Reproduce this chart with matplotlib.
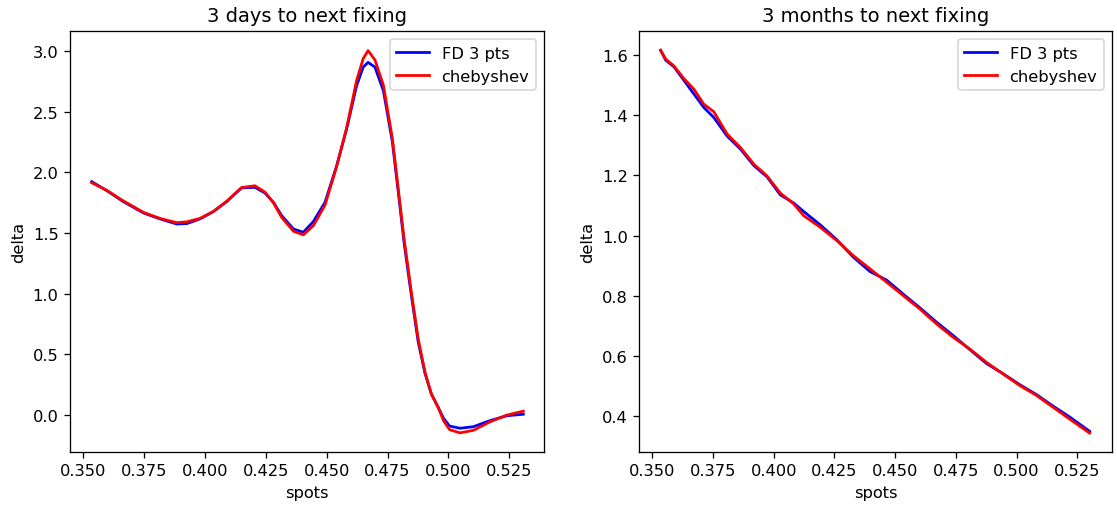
import matplotlib
matplotlib.use("Agg")
import matplotlib.pyplot as plt

# 3 days to next fixing
spots_short = [0.3534, 0.3596, 0.3664, 0.3747, 0.3815, 0.3883, 0.3925, 0.3979,
               0.4034, 0.4089, 0.4150, 0.4205, 0.4246, 0.4281, 0.4315, 0.4363,
               0.4404, 0.4445, 0.4493, 0.4541, 0.4582, 0.4623, 0.4650, 0.4670,
               0.4698, 0.4733, 0.4770, 0.4794, 0.4818, 0.4846, 0.4876, 0.4904,
               0.4930, 0.4958, 0.4980, 0.5005, 0.5048, 0.5103, 0.5171, 0.5239,
               0.5308]
fd_short = [1.924, 1.850, 1.759, 1.665, 1.616, 1.574, 1.577, 1.616,
            1.676, 1.759, 1.872, 1.877, 1.830, 1.753, 1.643, 1.533,
            1.506, 1.594, 1.753, 2.056, 2.359, 2.717, 2.870, 2.909,
            2.870, 2.675, 2.250, 1.840, 1.420, 1.010, 0.600, 0.340,
            0.170, 0.060, -0.030, -0.095, -0.113, -0.100, -0.050, -0.010,
            0.003]
cheb_short = [1.915, 1.852, 1.765, 1.670, 1.620, 1.585, 1.592, 1.620,
              1.678, 1.762, 1.875, 1.890, 1.838, 1.750, 1.628, 1.515,
              1.484, 1.560, 1.730, 2.050, 2.370, 2.760, 2.940, 3.006,
              2.930, 2.720, 2.277, 1.864, 1.451, 1.038, 0.625, 0.350,
              0.170, 0.060, -0.050, -0.125, -0.151, -0.130, -0.060, -0.005,
              0.028]

# 3 months to next fixing
spots_long = [0.3534, 0.3555, 0.3589, 0.3630, 0.3671, 0.3712, 0.3753, 0.3808,
              0.3863, 0.3918, 0.3972, 0.4027, 0.4082, 0.4123, 0.4192, 0.4260,
              0.4328, 0.4397, 0.4465, 0.4534, 0.4602, 0.4671, 0.4739, 0.4808,
              0.4876, 0.4945, 0.5013, 0.5082, 0.5150, 0.5218, 0.5301]
fd_long = [1.615, 1.582, 1.560, 1.515, 1.470, 1.425, 1.392, 1.330,
           1.287, 1.232, 1.195, 1.135, 1.108, 1.080, 1.035, 0.986,
           0.928, 0.880, 0.852, 0.805, 0.760, 0.712, 0.668, 0.621,
           0.575, 0.541, 0.505, 0.472, 0.434, 0.398, 0.350]
cheb_long = [1.615, 1.586, 1.563, 1.521, 1.486, 1.436, 1.411, 1.337,
             1.292, 1.237, 1.198, 1.141, 1.105, 1.066, 1.027, 0.983,
             0.933, 0.889, 0.845, 0.800, 0.756, 0.706, 0.662, 0.623,
             0.579, 0.540, 0.502, 0.469, 0.430, 0.391, 0.344]

W, H, DPI = 1117, 508, 117
fig, ax = plt.subplots(1, 2, figsize=(W / DPI, H / DPI), dpi=DPI)
ax[0].set_position([70 / W, 0.109, (544 - 70) / W, 0.828])
ax[1].set_position([639 / W, 0.109, (1112 - 639) / W, 0.828])

panels = [
    (spots_short, fd_short, cheb_short, "3 days to next fixing"),
    (spots_long, fd_long, cheb_long, "3 months to next fixing"),
]
for a, (x, fd, cheb, title) in zip(ax, panels):
    a.plot(x, fd, color='b', lw=1.7, label='FD 3 pts')
    a.plot(x, cheb, color='r', lw=1.7, label='chebyshev')
    a.set_title(title, fontsize=12)
    a.set_xlabel('spots')
    a.set_ylabel('delta')
    a.set_xticks([0.350, 0.375, 0.400, 0.425, 0.450, 0.475, 0.500, 0.525])
    a.set_xlim(0.3445, 0.5393)
    a.legend(loc='upper right')

ax[0].set_ylim(-0.306, 3.168)
ax[1].set_ylim(0.2826, 1.679)

fig.savefig("out.png", dpi=DPI)
